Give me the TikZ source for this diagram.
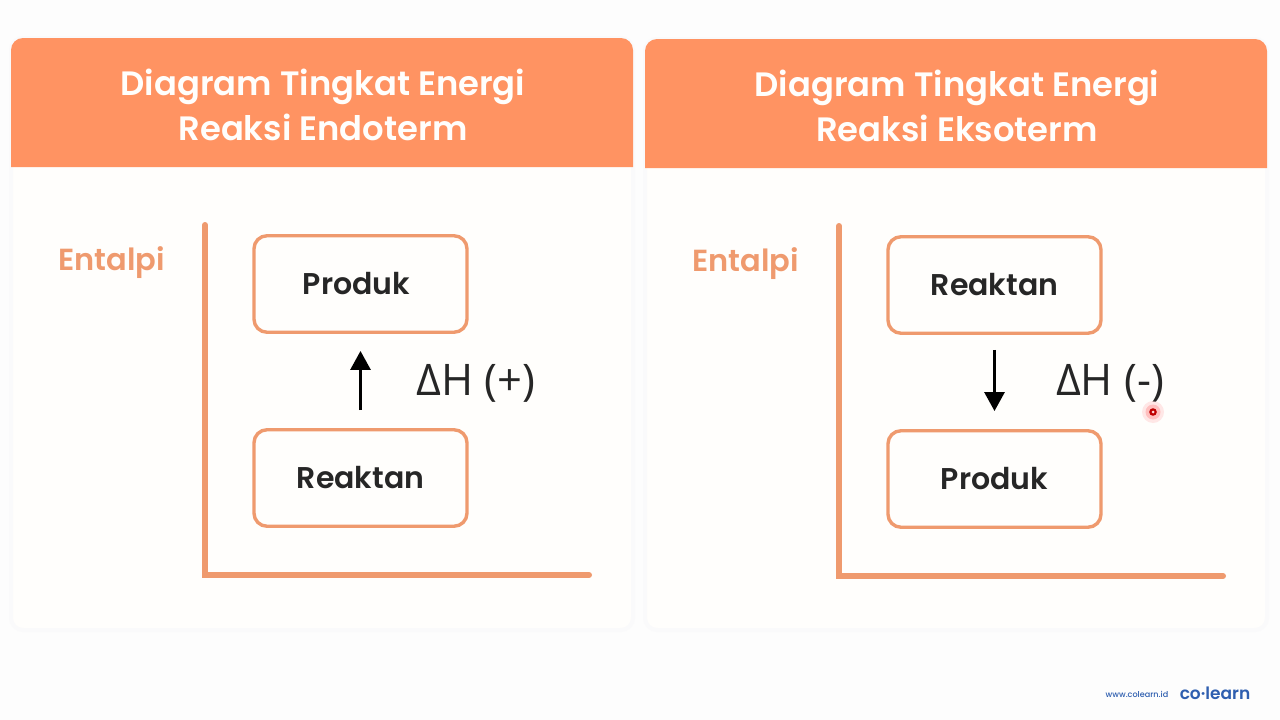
\documentclass[tikz,border=0pt]{standalone}
\usepackage{fontspec}
\setmainfont{Poppins}
\newfontfamily\titlefont{Poppins}[UprightFont=* SemiBold,BoldFont=* SemiBold]
\newfontfamily\medfont{Poppins}[UprightFont=* Medium]
\newfontfamily\dfont{Open Sans}
\usetikzlibrary{arrows.meta}
\definecolor{hdr}{HTML}{FF9362}
\definecolor{lineor}{HTML}{EF9A6E}
\definecolor{pagebg}{HTML}{FDFDFD}
\definecolor{cardbg}{HTML}{FFFEFC}
\definecolor{cardedge}{HTML}{FAFAFB}
\definecolor{ink}{HTML}{262626}
\definecolor{brand}{HTML}{2F5FB0}
\tikzset{
 x=1pt,y=-1pt,
 titletext/.style={text=cardbg,align=center,font=\titlefont\fontsize{33.8}{44.5}\selectfont,inner sep=0},
 levelbox/.style={draw=lineor,line width=3.4pt,rounded corners=13pt,minimum width=213pt,minimum height=96.5pt,inner sep=0,font=\titlefont\fontsize{30}{36}\selectfont,text=ink},
 entalpi/.style={text=lineor,font=\titlefont\fontsize{30.5}{34}\selectfont,inner sep=0},
 dh/.style={text=ink,font=\dfont\fontsize{43.5}{50}\selectfont,inner sep=0},
 axisline/.style={draw=lineor,line width=6pt,line cap=round,line join=miter},
 flow/.style={draw=black,line width=3pt,-{Triangle[length=19pt,width=20pt]}},
}
\begin{document}
\begin{tikzpicture}
\useasboundingbox (0,0) rectangle (1280,720);
\fill[pagebg] (0,0) rectangle (1280,720);
% left card
\draw[cardedge,line width=4pt,fill=cardbg] (11,38) [rounded corners=12pt] -- (633,38) -- (633,630) -- (11,630) -- cycle;
\fill[hdr] (11,167) [rounded corners=12pt] -- (11,38) -- (633,38) [sharp corners] -- (633,167) -- cycle;
% right card
\draw[cardedge,line width=4pt,fill=cardbg] (645,39) [rounded corners=12pt] -- (1267,39) -- (1267,630) -- (645,630) -- cycle;
\fill[hdr] (645,168) [rounded corners=12pt] -- (645,39) -- (1267,39) [sharp corners] -- (1267,168) -- cycle;
\node[titletext] (t1) at (323,105) {Diagram Tingkat Energi\\Reaksi Endoterm};
\node[titletext] (t2) at (957,106) {Diagram Tingkat Energi\\Reaksi Eksoterm};
\node[entalpi] (e1) at (111.5,263) {Entalpi};
\node[entalpi] (e2) at (745.5,264) {Entalpi};
\coordinate (a1t) at (205,225);
\coordinate (a1o) at (205,575);
\coordinate (a1r) at (589,575);
\coordinate (a2t) at (839,226);
\coordinate (a2o) at (839,576);
\coordinate (a2r) at (1223,576);
\draw[axisline] (a1t) -- (a1o) -- (a1r);
\draw[axisline] (a2t) -- (a2o) -- (a2r);
\node[levelbox] (p1) at (360.5,284) {\hspace*{-8pt}\raisebox{2pt}{Produk}};
\node[levelbox] (r1) at (360.5,478) {\raisebox{2pt}{Reaktan}};
\node[levelbox] (r2) at (994.5,285) {\raisebox{2pt}{Reaktan}};
\node[levelbox] (p2) at (994.5,479) {\raisebox{2pt}{Produk}};
\draw[flow,shorten <=18pt,shorten >=17pt] (r1) -- (p1);
\draw[flow,shorten <=15pt,shorten >=18pt] (r2) -- (p2);
\node[dh] (d1) at (476,383) {ΔH (+)};
\node[dh] (d2) at (1110,383) {ΔH (-)};
% pointer
\fill[red!20,opacity=.45] (1153,412) circle (11pt);
\fill[red!35,opacity=.6] (1153,412) circle (7.5pt);
\fill[red!75!black] (1153,412) circle (3.8pt);
\fill[red!15] (1153,412) circle (1.5pt);
% brand
\node[inner sep=0,text=brand,font=\medfont\fontsize{8.1}{10}\selectfont] (w) at (1137,694) {www.colearn.id};
\node[inner sep=0,text=brand,font=\titlefont\fontsize{17}{20}\selectfont] (b) at (1215,693) {co·learn};
\end{tikzpicture}
\end{document}
